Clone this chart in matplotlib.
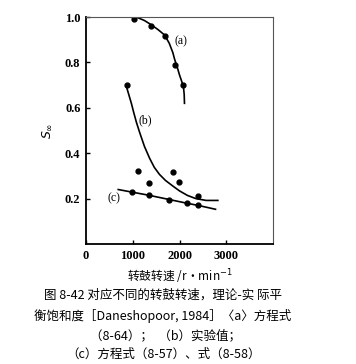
import matplotlib
matplotlib.use('Agg')
import matplotlib.pyplot as plt

plt.rcParams['font.family'] = ['Liberation Serif', 'Noto Sans CJK SC', 'DejaVu Sans']

# (a) equation (8-64)
a_x = [1020, 1400, 1680, 1894, 2085]
a_y = [0.993, 0.963, 0.918, 0.79, 0.70]
a_cx = [1078, 1250, 1397, 1540, 1681, 1780, 1858, 1894, 1950, 2000, 2050, 2085, 2100, 2106]
a_cy = [1.0, 0.985, 0.966, 0.945, 0.921, 0.885, 0.843, 0.815, 0.78, 0.745, 0.715, 0.69, 0.66, 0.62]

# (b) experiment
b_x = [870, 1110, 1340, 1850, 1980, 2400]
b_y = [0.70, 0.32, 0.27, 0.316, 0.275, 0.21]
b_cx = [870, 920, 970, 1020, 1080, 1150, 1250, 1360, 1460, 1570, 1700, 1860, 2000,
        2170, 2350, 2570, 2820]
b_cy = [0.69, 0.655, 0.62, 0.58, 0.535, 0.49, 0.43, 0.378, 0.338, 0.307, 0.28, 0.255, 0.234,
        0.214, 0.20, 0.192, 0.192]

# (c) equations (8-57), (8-58)
c_x = [985, 1340, 1780, 2150, 2400]
c_y = [0.228, 0.215, 0.194, 0.18, 0.171]
c_cx = [690, 1000, 1340, 1780, 2150, 2400, 2770]
c_cy = [0.24, 0.228, 0.215, 0.196, 0.18, 0.17, 0.153]

fig = plt.figure(figsize=(3.56, 3.64), dpi=100)
ax = fig.add_axes([0.2416, 0.3297, 0.5253, 0.6233])

for cx, cy, px, py in [(a_cx, a_cy, a_x, a_y), (b_cx, b_cy, b_x, b_y), (c_cx, c_cy, c_x, c_y)]:
    ax.plot(cx, cy, color='black', lw=1.2)
    ax.plot(px, py, 'o', color='black', ms=3.5)

ax.text(2040, 0.893, '(a)', fontsize=8.5, ha='center', va='center')
ax.text(1275, 0.547, '(b)', fontsize=8.5, ha='center', va='center')
ax.text(600, 0.2, '(c)', fontsize=8.5, ha='center', va='center')

ax.set_xlim(0, 4000)
ax.set_ylim(0, 1.0)
ax.set_xticks([0, 1000, 2000, 3000])
ax.set_xticklabels(['0', '1000', '2000', '3000'])
ax.set_yticks([0.2, 0.4, 0.6, 0.8, 1.0])
ax.set_yticklabels(['0.2', '0.4', '0.6', '0.8', '1.0'])
ax.tick_params(direction='in', length=3, labelsize=9, width=1, pad=4)
for lab in ax.get_xticklabels() + ax.get_yticklabels():
    lab.set_fontweight('bold')
ax.spines['left'].set_linewidth(1.3)
ax.spines['bottom'].set_linewidth(1.3)
ax.spines['top'].set_linewidth(0.8)
ax.spines['right'].set_linewidth(0.8)
ax.spines['top'].set_color('#555555')
ax.spines['right'].set_color('#555555')

ax.set_ylabel(r'$S_\infty$', fontsize=9, labelpad=8)
ax.set_xlabel('转鼓转速 /r·min$^{-1}$', fontsize=8.5, labelpad=4,
              family=['Noto Sans CJK SC', 'DejaVu Sans'])

cap = ['图 8-42 对应不同的转鼓转速，理论-实 际平',
       '衡饱和度［Daneshopoor, 1984］〈a〉方程式',
       '（8-64）；  （b）实验值；',
       '（c）方程式（8-57）、式（8-58）']
ys = [295, 316, 336, 354]
xs = [163, 163, 165, 164]
for t, y, x in zip(cap, ys, xs):
    fig.text(x / 356, 1 - y / 364, t, fontsize=9, ha='center', va='center',
             family=['Noto Sans CJK SC', 'DejaVu Sans'])

fig.savefig('out.png', dpi=100)
